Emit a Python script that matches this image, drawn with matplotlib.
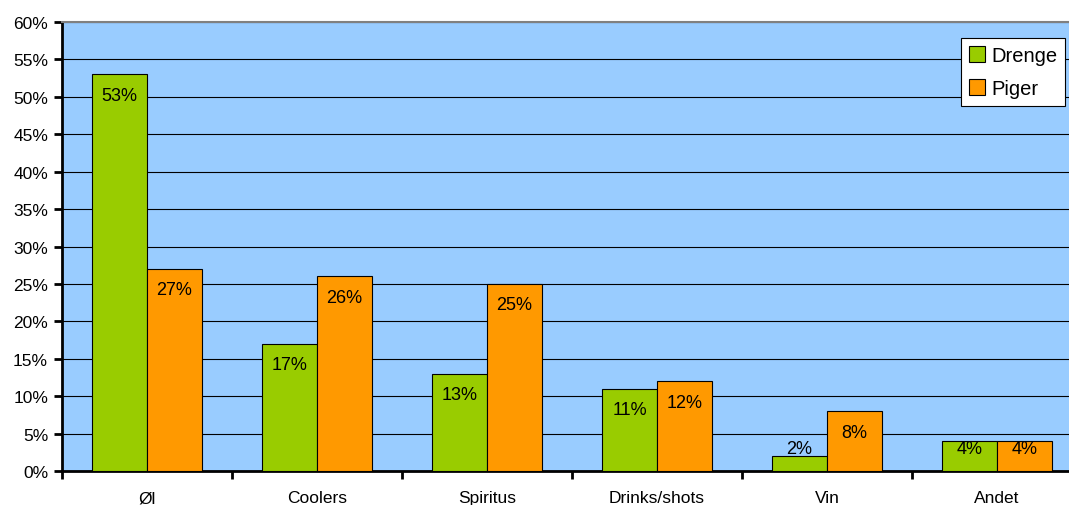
import numpy as np
import matplotlib
matplotlib.use("Agg")
import matplotlib.pyplot as plt
from matplotlib.ticker import FixedLocator, PercentFormatter

categories = ["Øl", "Coolers", "Spiritus", "Drinks/shots", "Vin", "Andet"]
drenge = [53, 17, 13, 11, 2, 4]
piger = [27, 26, 25, 12, 8, 4]
series_names = ["Drenge", "Piger"]

plt.rcParams['font.family'] = ['Liberation Sans', 'DejaVu Sans']

fig = plt.figure(figsize=(10.69, 5.06), dpi=100)
ax = fig.add_axes([62 / 1069, 1 - 472 / 506, 1020 / 1069, 449 / 506])
ax.set_facecolor("#99CCFF")

x = np.arange(len(categories))
w = 0.324
b1 = ax.bar(x - w / 2, drenge, w, color="#99CC00", edgecolor="black", linewidth=0.8,
            label=series_names[0], zorder=3)
b2 = ax.bar(x + w / 2, piger, w, color="#FF9900", edgecolor="black", linewidth=0.8,
            label=series_names[1], zorder=3)

for xs, vals in [(x - w / 2, drenge), (x + w / 2, piger)]:
    for xi, v in zip(xs, vals):
        ax.text(xi, max(v - 2.8, 2.95), f"{v}%", ha="center", va="center",
                fontsize=13, zorder=4)

ax.set_xlim(-0.5, len(categories) - 0.5)
ax.set_ylim(0, 60)
ax.set_yticks(np.arange(0, 61, 5))
ax.yaxis.set_major_formatter(PercentFormatter(decimals=0))
ax.yaxis.grid(True, color="black", linewidth=0.8, zorder=1)
ax.set_axisbelow(True)

ax.set_xticks(x)
ax.set_xticklabels(categories)
ax.xaxis.set_minor_locator(FixedLocator(np.arange(-0.5, len(categories), 1)))
ax.tick_params(axis="x", which="major", length=0, pad=14, labelsize=12.5)
ax.tick_params(axis="x", which="minor", length=6, width=2, direction="out")
ax.tick_params(axis="y", length=6, width=2, direction="out", labelsize=12.5, pad=4)

for s in ["left", "bottom"]:
    ax.spines[s].set_linewidth(2)
ax.spines["top"].set_color("#808080")
ax.spines["top"].set_linewidth(1.5)
ax.spines["right"].set_visible(False)

leg = ax.legend(loc="upper left", bbox_to_anchor=((961 - 62) / 1020, 1 - (39 - 23) / 449),
                fontsize=14.5, frameon=True, fancybox=False, edgecolor="black",
                framealpha=1, handlelength=0.8, handleheight=0.8, handletextpad=0.3,
                borderpad=0.4, labelspacing=0.7, borderaxespad=0)
leg.get_frame().set_linewidth(0.8)

fig.savefig("out.png", dpi=100)
